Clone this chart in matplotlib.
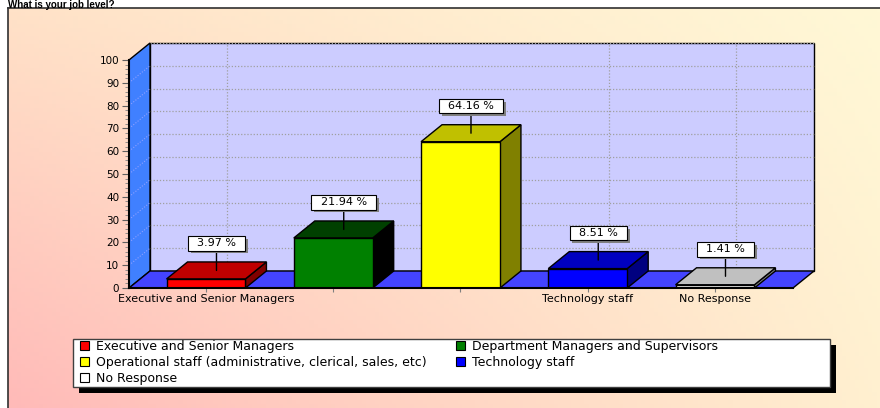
import numpy as np
import matplotlib.pyplot as plt
from matplotlib.patches import Polygon, Patch, Rectangle
from matplotlib.lines import Line2D
import matplotlib.patheffects as pe

plt.rcParams['font.family'] = ['DejaVu Sans']

title = "What is your job level?"
categories = ["Executive and Senior Managers",
              "Department Managers and Supervisors",
              "Operational staff (administrative, clerical, sales, etc)",
              "Technology staff",
              "No Response"]
values = [3.97, 21.94, 64.16, 8.51, 1.41]
# only some category names fit under the axis
tick_labels = ["Executive and Senior Managers", "", "", "Technology staff", "No Response"]
yticks = [0, 10, 20, 30, 40, 50, 60, 70, 80, 90, 100]

front_colors = ['#ff0000', '#008000', '#ffff00', '#0000ff', '#ffffff']
top_colors = ['#c00000', '#004000', '#c0c000', '#0000c0', '#c0c0c0']
side_colors = ['#800000', '#000000', '#808000', '#000080', '#808080']

W, H = 880, 408
fig = plt.figure(figsize=(W / 100, H / 100), dpi=100)

# background gradient inside the frame
bg = fig.add_axes([8 / W, 0, 1 - 8 / W, 1 - 8 / H], zorder=-10)
tl = np.array([255, 226, 200]); tr = np.array([255, 248, 214])
bl = np.array([255, 186, 184]); br = np.array([255, 240, 208])
u = np.linspace(0, 1, 200)[None, :, None]
v = np.linspace(0, 1, 100)[:, None, None]
img = (1 - u) * (1 - v) * tl + u * (1 - v) * tr + (1 - u) * v * bl + u * v * br
bg.imshow(img / 255, aspect='auto', extent=[0, 1, 0, 1], origin='upper')
bg.axis('off')
fig.add_artist(Line2D([8 / W, 8 / W], [0, 1 - 8 / H], transform=fig.transFigure, color='#303030', lw=1.2))
fig.add_artist(Line2D([8 / W, 1], [1 - 8 / H, 1 - 8 / H], transform=fig.transFigure, color='#303030', lw=1.2))

fig.text(8 / W, 1 - 0.5 / H, title, fontweight='bold', fontsize=7, va='top',
         family=['Liberation Sans', 'DejaVu Sans'])

ax = fig.add_axes([129 / W, (H - 288) / H, 664 / W, 228 / H])
x = np.arange(len(values))
xmin, xmax = -0.605, 4.613
ax.set_xlim(xmin, xmax)
ax.set_ylim(0, 100)
ax.patch.set_visible(False)

# depth of the 3d effect, 21 px right and 17 px up
p0 = ax.transData.transform((0, 0))
ddx, ddy = ax.transData.inverted().transform(p0 + np.array([21, 17]))

def poly(pts, fc, z, ec='black', lw=1):
    ax.add_patch(Polygon(pts, closed=True, facecolor=fc, edgecolor=ec, lw=lw, zorder=z, clip_on=False))

# back wall
poly([(xmin + ddx, ddy), (xmax + ddx, ddy), (xmax + ddx, 100 + ddy), (xmin + ddx, 100 + ddy)], '#ccccff', 0.1)
for yv in yticks[1:]:
    ax.plot([xmin + ddx, xmax + ddx], [yv + ddy, yv + ddy], color='#a0a0a0', lw=0.9,
            ls=(0, (1, 1.5)), zorder=0.2, clip_on=False)
for i, lab in enumerate(tick_labels):
    if lab:
        ax.plot([i + ddx, i + ddx], [ddy, 100 + ddy], color='#a0a0a0', lw=0.9,
                ls=(0, (1, 1.5)), zorder=0.2, clip_on=False)
# left wall
poly([(xmin, 0), (xmin + ddx, ddy), (xmin + ddx, 100 + ddy), (xmin, 100)], '#4080ff', 0.3)
for yv in yticks[1:-1]:
    ax.plot([xmin, xmin + ddx], [yv, yv + ddy], color='#8fa0ff', lw=0.8,
            ls=(0, (1, 1.5)), zorder=0.35, clip_on=False)
# floor
poly([(xmin, 0), (xmax, 0), (xmax + ddx, ddy), (xmin + ddx, ddy)], '#4444ff', 0.4)

bw = 0.62
for i, val in enumerate(values):
    l, r = i - bw / 2, i + bw / 2
    poly([(r, 0), (r + ddx, ddy), (r + ddx, val + ddy), (r, val)], side_colors[i], 1 + i)
    poly([(l, val), (r, val), (r + ddx, val + ddy), (l + ddx, val + ddy)], top_colors[i], 1 + i)
ax.bar(x, values, width=bw, color=front_colors, edgecolor='black', linewidth=1, zorder=6)

for i, val in enumerate(values):
    ann = ax.annotate(f"  {val:.2f} %  ", xy=(i + ddx / 2, val + ddy / 2), xytext=(0, 22),
                      textcoords='offset pixels', ha='center', va='bottom', fontsize=8,
                      bbox=dict(boxstyle='square,pad=0.2', fc='white', ec='black', lw=0.8),
                      arrowprops=dict(arrowstyle='-', color='black', lw=1, shrinkA=0, shrinkB=0),
                      zorder=10)
    ann.get_bbox_patch().set_path_effects([
        pe.SimplePatchShadow(offset=(2, -2), shadow_rgbFace='#808080', alpha=1), pe.Normal()])

for s in ['top', 'right']:
    ax.spines[s].set_visible(False)
for s in ['left', 'bottom']:
    ax.spines[s].set_linewidth(1.5)
    ax.spines[s].set_zorder(7)
ax.set_yticks(yticks)
ax.set_yticks(np.arange(0, 101, 2), minor=True)
ax.tick_params(axis='y', which='major', length=5, color='#606060', labelsize=7.5, pad=2)
ax.tick_params(axis='y', which='minor', length=3, color='#808080')
ax.set_xticks(x)
ax.set_xticklabels(tick_labels)
ax.tick_params(axis='x', length=3, color='#808080', labelsize=8, pad=1.5)

# legend frame with shadow
fig.add_artist(Rectangle((79 / W, (H - 393) / H), 757 / W, 48 / H, transform=fig.transFigure,
                         facecolor='black', edgecolor='none', zorder=3))
fig.add_artist(Rectangle((73 / W, (H - 387) / H), 757 / W, 48 / H, transform=fig.transFigure,
                         facecolor='white', edgecolor='#404040', lw=1, zorder=4))
handles = [Patch(facecolor=c, edgecolor='black', lw=0.8) for c in front_colors]
for idx, xpos in [([0, 2, 4], 80), ([1, 3], 456)]:
    leg = fig.legend([handles[k] for k in idx], [categories[k] for k in idx],
                     loc='upper left', bbox_to_anchor=(xpos / W, 1 - 340 / H), frameon=False,
                     fontsize=9, handlelength=0.75, handleheight=0.75, handletextpad=0.55,
                     labelspacing=0.24, borderpad=0, borderaxespad=0)
    leg.set_zorder(5)

fig.savefig('out.png', dpi=100)
